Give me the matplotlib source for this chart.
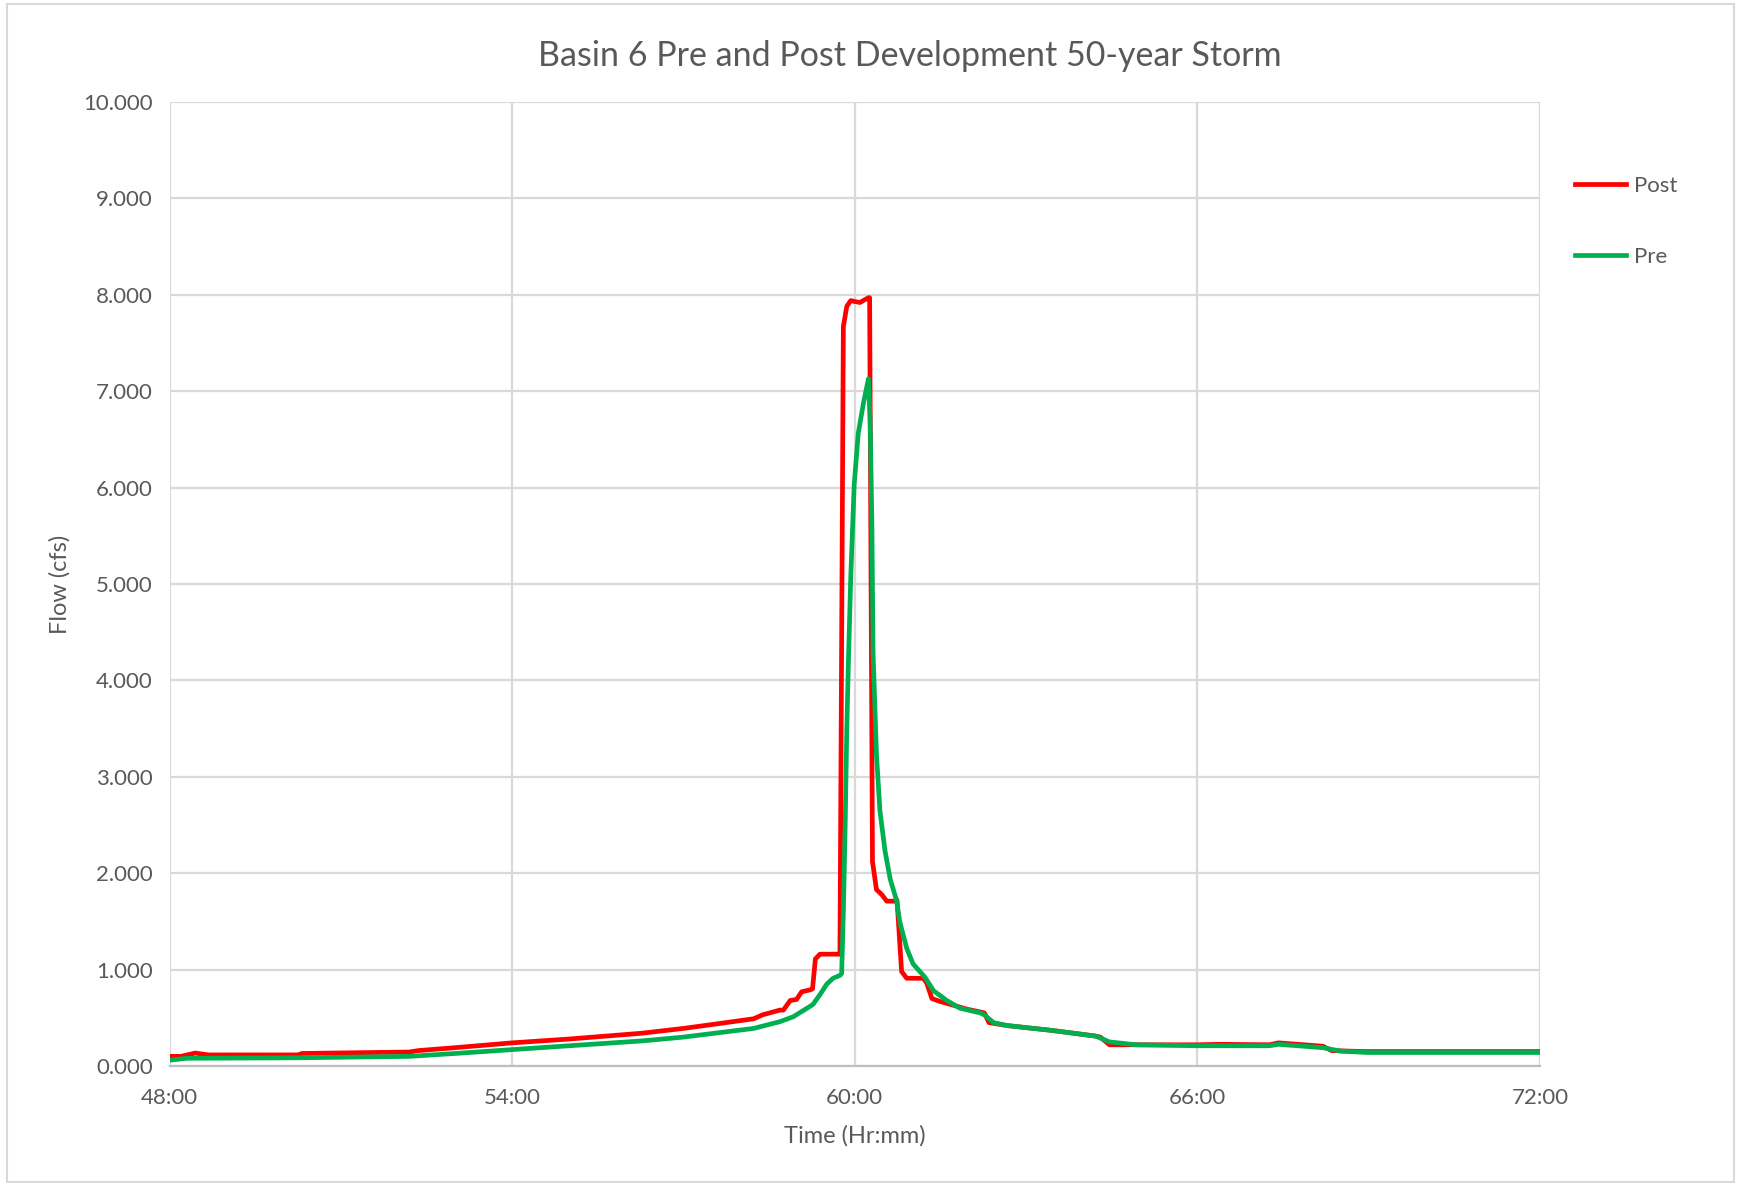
import matplotlib
matplotlib.use('Agg')
import matplotlib.pyplot as plt
from matplotlib.patches import Rectangle
from matplotlib.ticker import FuncFormatter, MultipleLocator

plt.rcParams['font.family'] = ['Lato', 'DejaVu Sans']

# time in hours, flow in cfs
post_t = [48.0, 48.2, 48.45, 48.68, 50.25, 50.32, 52.2, 52.36, 53.0, 54.0, 55.0, 56.27,
          57.0, 57.5, 58.23, 58.38, 58.69, 58.75, 58.87, 58.98, 59.07, 59.22, 59.26,
          59.31, 59.39, 59.71, 59.74, 59.80, 59.86, 59.93, 60.0, 60.09, 60.18, 60.24,
          60.26, 60.31, 60.38, 60.47, 60.56, 60.70, 60.74, 60.82, 60.91, 61.2, 61.26,
          61.35, 61.49, 61.67, 61.96, 62.2, 62.27, 62.35, 62.66, 63.44, 64.22, 64.3,
          64.46, 66.0, 66.4, 67.26, 67.42, 68.2, 68.35, 68.9, 72.0]
post_q = [0.10, 0.10, 0.134, 0.115, 0.115, 0.13, 0.145, 0.16, 0.19, 0.24, 0.28, 0.34,
          0.39, 0.43, 0.49, 0.53, 0.58, 0.58, 0.68, 0.69, 0.77, 0.79, 0.80,
          1.11, 1.16, 1.16, 1.16, 7.67, 7.88, 7.94, 7.93, 7.92, 7.95, 7.97,
          7.97, 2.12, 1.83, 1.78, 1.71, 1.71, 1.72, 0.98, 0.91, 0.91, 0.86,
          0.70, 0.67, 0.64, 0.59, 0.56, 0.55, 0.45, 0.42, 0.37, 0.31, 0.30,
          0.22, 0.22, 0.225, 0.22, 0.24, 0.205, 0.16, 0.15, 0.15]

pre_t = [48.0, 48.3, 50.25, 52.2, 53.0, 54.0, 55.0, 56.27, 57.0, 58.23, 58.69,
         58.92, 59.22, 59.27, 59.39, 59.51, 59.62, 59.74, 59.77, 59.80, 59.83, 59.86,
         59.89, 59.93, 59.99, 60.06, 60.15, 60.24, 60.27, 60.30, 60.32, 60.38,
         60.44, 60.53, 60.62, 60.73, 60.79, 60.91, 61.02, 61.23, 61.38, 61.61,
         61.84, 62.2, 62.27, 62.43, 62.66, 63.44, 64.22, 64.46, 64.92, 66.0,
         67.26, 67.42, 68.2, 68.5, 68.98, 72.0]
pre_q = [0.06, 0.08, 0.085, 0.10, 0.13, 0.17, 0.21, 0.26, 0.30, 0.39, 0.46,
         0.51, 0.62, 0.64, 0.74, 0.85, 0.91, 0.94, 0.96, 1.6, 2.44, 3.49,
         4.23, 5.08, 6.03, 6.56, 6.87, 7.13, 6.66, 5.61, 4.29, 3.23,
         2.65, 2.23, 1.94, 1.72, 1.49, 1.22, 1.06, 0.92, 0.78, 0.68,
         0.60, 0.55, 0.53, 0.45, 0.42, 0.37, 0.31, 0.25, 0.22, 0.21,
         0.21, 0.225, 0.19, 0.155, 0.14, 0.14]

txt = '#595959'
grid = '#D9D9D9'

fig = plt.figure(figsize=(17.37, 11.83), dpi=100)
fig.subplots_adjust(left=0.0976, right=0.8866, bottom=0.0989, top=0.9138)
ax = fig.add_subplot(111)

ax.plot(post_t, post_q, color='#FF0000', lw=3.4, label='Post', solid_joinstyle='round')
ax.plot(pre_t, pre_q, color='#00B050', lw=3.4, label='Pre', solid_joinstyle='round')

ax.set_xlim(48, 72)
ax.set_ylim(0, 10)
ax.xaxis.set_major_locator(MultipleLocator(6))
ax.yaxis.set_major_locator(MultipleLocator(1))
ax.xaxis.set_major_formatter(FuncFormatter(lambda v, p: '%d:00' % int(round(v))))
ax.yaxis.set_major_formatter(FuncFormatter(lambda v, p: '%.3f' % v))
ax.grid(True, color=grid, lw=1.6)
ax.set_axisbelow(True)
for s in ['top', 'right', 'left']:
    ax.spines[s].set_visible(False)
ax.spines['bottom'].set_color('#BFBFBF')
ax.spines['bottom'].set_linewidth(1.6)
ax.tick_params(axis='y', length=0, labelsize=16, labelcolor=txt, pad=12)
ax.tick_params(axis='x', length=0, labelsize=16, labelcolor=txt, pad=16)

ax.set_xlabel('Time (Hr:mm)', fontsize=17, color=txt, labelpad=12)
ax.set_ylabel('Flow (cfs)', fontsize=17, color=txt, labelpad=9)
fig.suptitle('Basin 6 Pre and Post Development 50-year Storm', x=0.524, y=0.953,
             va='center', fontsize=24.5, color=txt)

leg = fig.legend(loc='upper left', bbox_to_anchor=(0.895, 0.868), frameon=False,
                 fontsize=16, labelspacing=2.3, handlelength=2.3, handletextpad=0.35)
for t in leg.get_texts():
    t.set_color(txt)

fig.patches.append(Rectangle((0.004, 0.001), 0.994, 0.996, transform=fig.transFigure,
                             fill=False, edgecolor=grid, lw=1.5))

fig.savefig('out.png', dpi=100)
